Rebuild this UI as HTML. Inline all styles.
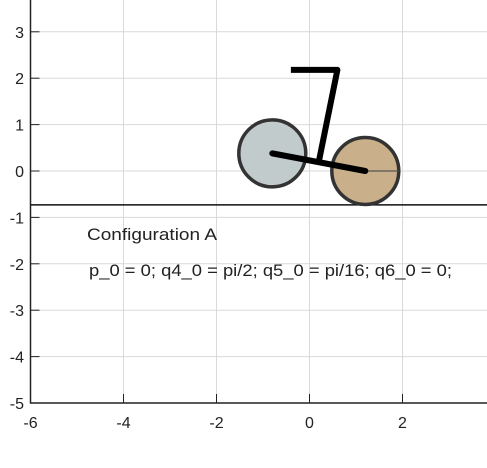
<!DOCTYPE html>
<html><head><meta charset="utf-8"><style>
html,body{margin:0;padding:0;background:#fff;}
svg{display:block;font-family:"Liberation Sans",sans-serif;}
</style></head><body>
<svg id="c" width="487" height="468"></svg>
<script>
const xTicks=[-6,-4,-2,0,2];
const yTicks=[-5,-4,-3,-2,-1,0,1,2,3];
const groundY=[-0.73];
const rearWheel=[-0.8,0.38,0.72];
const frontWheel=[1.2,0,0.72];
const frameLine=[[-0.8,0.38],[1.2,0]];
const uprightLine=[[0.2,0.2],[0.6,2.18],[-0.4,2.18]];
const X=v=>309.5+46.5*v, Y=v=>171-46.4*v, R=r=>46.5*r;
const svg=document.getElementById('c');
const NS='http://www.w3.org/2000/svg';
function mk(t,a,p){const e=document.createElementNS(NS,t);for(const k in a)e.setAttribute(k,a[k]);(p||svg).appendChild(e);return e;}
xTicks.forEach(v=>{
 const g=mk('line',{x1:X(v),x2:X(v),y1:0,y2:403,stroke:'#d9d9d9','stroke-width':1});
 
 
 const t=mk('line',{x1:X(v),x2:X(v),y1:403,y2:394,stroke:'#222','stroke-width':1});
 
 
 const l=mk('text',{x:X(v),y:428,'text-anchor':'middle','font-size':16,fill:'#222'});
 l.textContent=v;
 
 
});
yTicks.forEach(v=>{
 const g=mk('line',{x1:30.5,x2:487,y1:Y(v),y2:Y(v),stroke:'#d9d9d9','stroke-width':1});
 
 
 const t=mk('line',{x1:30.5,x2:39.5,y1:Y(v),y2:Y(v),stroke:'#222','stroke-width':1});
 
 
 const l=mk('text',{x:24,y:Y(v)+6,'text-anchor':'end','font-size':16,fill:'#222'});
 l.textContent=v;
 
 
});
const ax=mk('line',{x1:30.5,x2:30.5,y1:0,y2:403.5,stroke:'#222','stroke-width':1.5});


const bx=mk('line',{x1:30,x2:487,y1:403,y2:403,stroke:'#222','stroke-width':1.5});


const gl=mk('line',{x1:30.5,x2:487,y1:Y(groundY[0]),y2:Y(groundY[0]),stroke:'#111','stroke-width':1.5});


const rw=mk('circle',{cx:X(rearWheel[0]),cy:Y(rearWheel[1]),r:R(rearWheel[2]),fill:'#c2cbcc',stroke:'#333','stroke-width':3.5});


const fw=mk('circle',{cx:X(frontWheel[0]),cy:Y(frontWheel[1]),r:R(frontWheel[2]),fill:'#c9b08b',stroke:'#333','stroke-width':3.5});


const sp=mk('line',{x1:X(frontWheel[0]),y1:Y(frontWheel[1]),x2:X(frontWheel[0])+R(frontWheel[2]),y2:Y(frontWheel[1]),stroke:'#555','stroke-width':1.2});


const fr=mk('polyline',{points:frameLine.map(p=>X(p[0])+','+Y(p[1])).join(' '),fill:'none',stroke:'#000','stroke-width':6,'stroke-linecap':'round'});


const up=mk('polyline',{points:uprightLine.map(p=>X(p[0])+','+Y(p[1])).join(' '),fill:'none',stroke:'#000','stroke-width':6,'stroke-linejoin':'round'});


const t1=mk('text',{x:87,y:240,'font-size':17,fill:'#222',textLength:130,lengthAdjust:'spacingAndGlyphs'});
t1.textContent='Configuration A';


const t2=mk('text',{x:89,y:276,'font-size':17,fill:'#222',textLength:363,lengthAdjust:'spacingAndGlyphs'});
t2.textContent='p_0 = 0; q4_0 = pi/2; q5_0 = pi/16; q6_0 = 0;';


</script>
</body></html>
